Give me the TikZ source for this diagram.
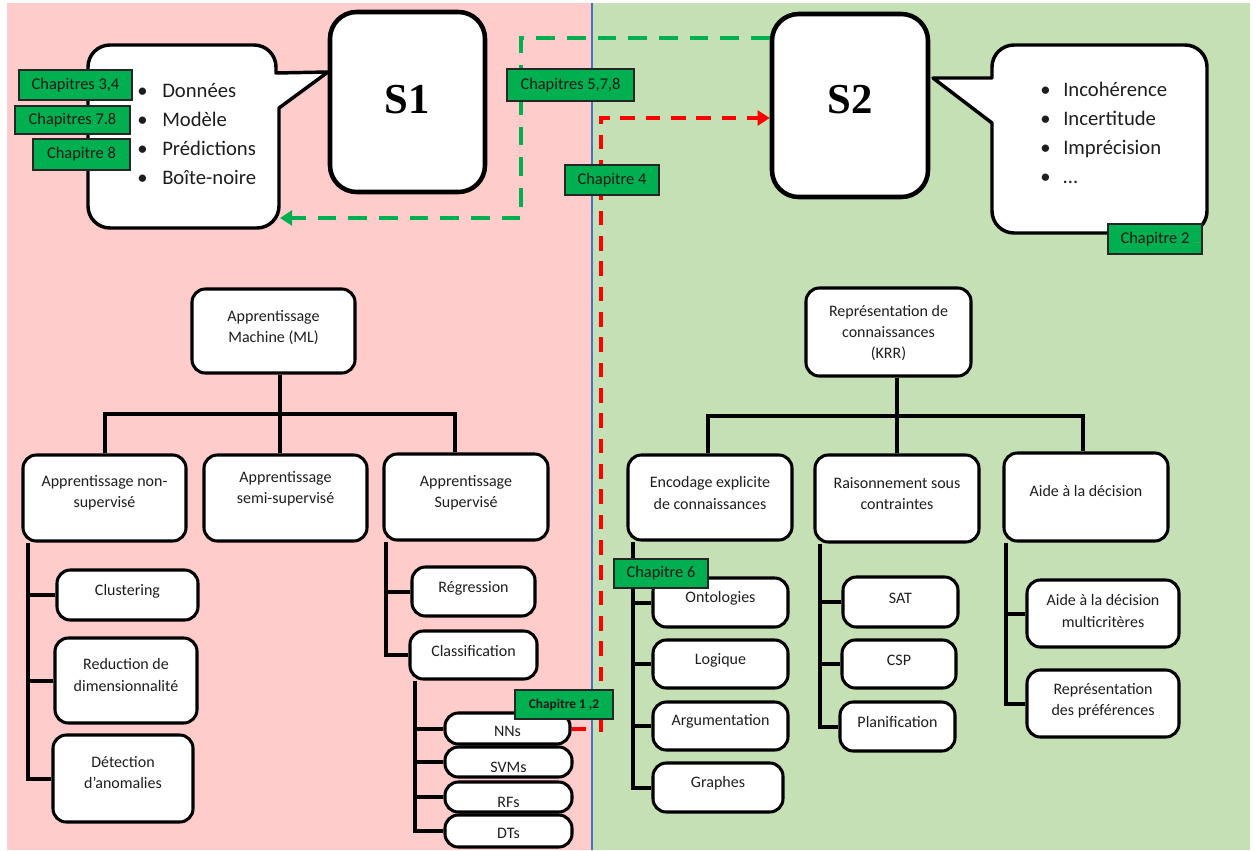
\documentclass[tikz,border=0pt]{standalone}
\usepackage{fontspec}
\setmainfont{Carlito}
\newfontfamily\serifb{Liberation Serif}
\usetikzlibrary{arrows.meta,fit}
\definecolor{pinkbg}{RGB}{255,204,204}
\definecolor{greenbg}{RGB}{197,224,180}
\definecolor{chapg}{RGB}{0,176,80}
\definecolor{divblue}{RGB}{68,114,196}
\definecolor{txtc}{RGB}{30,30,30}
\tikzset{
  box/.style={draw=black, fill=white, line width=2.3pt, rounded corners=10pt, inner sep=0pt},
  txt/.style={align=center, inner sep=0pt, text=txtc, font=\fontsize{12}{15.8}\selectfont},
  conn/.style={line width=3pt},
  chap/.style={draw=black!85, fill=chapg, line width=0.9pt, inner sep=0pt, text=black!90, font=\fontsize{12.3}{14}\selectfont},
  gdash/.style={draw=chapg, line width=3pt, dash pattern=on 14pt off 9pt},
  rdash/.style={draw=red, line width=3pt, dash pattern=on 11pt off 8pt},
  bigbox/.style={draw=black, fill=white, line width=3.4pt, rounded corners=20pt, inner sep=0pt},
  bubble/.style={draw=black, fill=white, line width=2.6pt, line join=round},
  bul/.style={align=left, inner sep=0pt, text=txtc, font=\fontsize{15.5}{21.75}\selectfont},
  stxt/.style={inner sep=0pt, font=\serifb\bfseries\fontsize{32}{36}\selectfont},
}
\newcommand\bx[7]{\node[box, fit={(#2,#3)(#4,#5)}] (#1) {};
  \node[txt] (#1-t) at ({(#2+#4)/2},#6) {#7};}
\begin{document}
\begin{tikzpicture}[x=0.75pt,y=-0.75pt]
\useasboundingbox (0,0) rectangle (1256,850);
% backgrounds
\fill[pinkbg] (7,3) rectangle (592,850);
\fill[greenbg] (592,3) rectangle (1250,850);
\draw[divblue, line width=0.8pt] (592,3) -- (592,850);

% bubbles
\draw[bubble] (110,45) -- (254,45) to[out=0,in=90] (276,67) -- (276,73) -- (328,72) -- (279,108)
  -- (279,206) to[out=-90,in=0] (257,228) -- (110,228) to[out=180,in=-90] (88,206)
  -- (88,67) to[out=90,in=180] (110,45) -- cycle;
\draw[bubble] (1014,45) -- (1185,45) to[out=0,in=90] (1207,67) -- (1207,211) to[out=-90,in=0] (1185,233)
  -- (1014,233) to[out=180,in=-90] (992,211) -- (992,123) -- (933,78) -- (992,78)
  -- (992,67) to[out=90,in=180] (1014,45) -- cycle;

% S boxes
\node[bigbox, fit={(330,12)(485,192)}] (s1) {};
\node[stxt] (s1-t) at (407,100) {S1};
\node[bigbox, fit={(772,14)(928,197)}] (s2) {};
\node[stxt] (s2-t) at (850,100) {S2};

% bullet lists
\node[bul, anchor=west] (l1) at (137,134.5) {\makebox[18.75pt][l]{•}Données\\\makebox[18.75pt][l]{•}Modèle\\\makebox[18.75pt][l]{•}Prédictions\\\makebox[18.75pt][l]{•}Boîte-noire};
\node[bul, anchor=west] (l2) at (1040,133) {\makebox[17.25pt][l]{•}Incohérence\\\makebox[17.25pt][l]{•}Incertitude\\\makebox[17.25pt][l]{•}Imprécision\\\makebox[17.25pt][l]{•}…};

% left tree
\bx{ml}{192}{289}{355}{373}{327.5}{Apprentissage\\Machine (ML)}
\bx{ns}{23}{455}{186}{541}{492.5}{Apprentissage non-\\supervisé}
\bx{ss}{204}{455}{367}{541}{488.5}{Apprentissage\\semi-supervisé}
\bx{sup}{384}{454}{548}{540}{492.5}{Apprentissage\\Supervisé}
\bx{clu}{57}{570}{198}{620}{591}{Clustering}
\bx{red}{55}{638}{197}{723}{675}{Reduction de\\dimensionnalité}
\bx{det}{53}{735}{193}{822}{772.5}{Détection\\d’anomalies}
\bx{reg}{412}{567}{535}{616}{588}{Régression}
\bx{cla}{410}{631}{537}{679}{651}{Classification}
\bx{nn}{445}{713}{570}{744}{731}{NNs}
\node[box, fit={(445,747)(572,777)}] (svm) {};
\begin{scope}
\clip (svm.north west) rectangle ([yshift=4.5pt]svm.south east);
\node[txt] (svm-t) at (508.5,767) {SVMs};
\end{scope}
\node[box, fit={(445,782)(572,812)}] (rf) {};
\begin{scope}
\clip (rf.north west) rectangle ([yshift=4.5pt]rf.south east);
\node[txt] (rf-t) at (508.5,802) {RFs};
\end{scope}
\bx{dt}{445}{815}{572}{847}{833}{DTs}

% right tree
\bx{krr}{806}{288}{971}{376}{333}{Représentation de\\connaissances\\(KRR)}
\bx{enc}{628}{455}{792}{540}{493}{Encodage explicite\\de connaissances}
\bx{rai}{815}{455}{979}{542}{493.5}{Raisonnement sous\\contraintes}
\bx{aid}{1004}{453}{1168}{541}{491}{Aide à la décision}
\bx{ont}{653}{578}{788}{627}{598}{Ontologies}
\bx{log}{653}{640}{788}{688}{660}{Logique}
\bx{arg}{653}{702}{788}{750}{721}{Argumentation}
\bx{gra}{653}{763}{783}{812}{783}{Graphes}
\bx{sat}{843}{577}{958}{627}{598}{SAT}
\bx{csp}{842}{640}{956}{688}{660}{CSP}
\bx{pla}{840}{702}{955}{751}{722}{Planification}
\bx{mcd}{1027}{580}{1179}{647}{611}{Aide à la décision\\multicritères}
\bx{pref}{1027}{670}{1179}{737}{701}{Représentation\\des préférences}

% left tree connectors
\coordinate (mlJ) at (280,414);
\coordinate (mlL) at (105,414);
\coordinate (mlR) at (455,414);
\draw[conn] (mlJ |- ml.south) -- (mlJ |- ss.north);
\draw[conn] (mlL |- ns.north) -- (mlL) -- (mlR) -- (mlR |- sup.north);
\coordinate (nsx) at ([xshift=5.25pt]ns.south west);
\draw[conn] (nsx) |- (det.west);
\draw[conn] (nsx |- clu.west) -- (clu.west);
\draw[conn] (nsx |- red.west) -- (red.west);
\coordinate (supx) at ([xshift=3pt]sup.south west);
\draw[conn] (supx) |- (cla.west);
\draw[conn] (supx |- reg.west) -- (reg.west);
\coordinate (clax) at ([xshift=5.25pt]cla.south west);
\draw[conn] (clax) |- (dt.west);
\draw[conn] (clax |- nn.west) -- (nn.west);
\draw[conn] (clax |- svm.west) -- (svm.west);
\draw[conn] (clax |- rf.west) -- (rf.west);

% right tree connectors
\coordinate (kJ) at (897,416);
\coordinate (kL) at (708,416);
\coordinate (kR) at (1083,416);
\draw[conn] (kJ |- krr.south) -- (kJ |- rai.north);
\draw[conn] (kL |- enc.north) -- (kL) -- (kR) -- (kR |- aid.north);
\coordinate (encx) at ([xshift=5.25pt]enc.south west);
\draw[conn] (encx) |- (gra.west);
\draw[conn] (encx |- ont.west) -- (ont.west);
\draw[conn] (encx |- log.west) -- (log.west);
\draw[conn] (encx |- arg.west) -- (arg.west);
\coordinate (raix) at ([xshift=5.25pt]rai.south west);
\draw[conn] (raix) |- (pla.west);
\draw[conn] (raix |- sat.west) -- (sat.west);
\draw[conn] (raix |- csp.west) -- (csp.west);
\coordinate (aidx) at ([xshift=2.5pt]aid.south west);
\draw[conn] (aidx) |- (pref.west);
\draw[conn] (aidx |- mcd.west) -- (mcd.west);

% dashed arrows
\coordinate (g1) at (521,38);
\coordinate (g2) at (521,218);
\coordinate (lbe) at (280,218);
\draw[gdash, -{Triangle[length=9pt,width=11pt]}] (g1 -| s2.west) -- (g1) -- (g2) -- (lbe);
\coordinate (r0) at (601,732);
\coordinate (r1) at (601,118);
\draw[rdash, -{Triangle[length=9pt,width=11pt]}] (r0) -- (r1) -- (r1 -| s2.west);
\draw[rdash] (nn.east) -- ++(12.75pt,0);

% chapter labels
\node[chap, minimum width=84.75pt, minimum height=22.5pt] (c34) at (75.5,85) {Chapitres 3,4};
\node[chap, minimum width=86.25pt, minimum height=21pt] (c78) at (72.5,120) {Chapitres 7.8};
\node[chap, minimum width=72.75pt, minimum height=23.25pt] (c8) at (81.5,154.5) {Chapitre 8};
\node[chap, minimum width=95.25pt, minimum height=24pt] (c578) at (570.5,85) {Chapitres 5,7,8};
\node[chap, minimum width=70.5pt, minimum height=22.5pt] (c4) at (612,180) {Chapitre 4};
\node[chap, minimum width=70.5pt, minimum height=22.5pt] (c2) at (1155,239) {Chapitre 2};
\node[chap, minimum width=70.5pt, minimum height=21.75pt] (c6) at (661,573.5) {Chapitre 6};
\node[chap, minimum width=73.5pt, minimum height=21.75pt, font=\bfseries\fontsize{10}{12}\selectfont] (c12) at (564,704.5) {Chapitre 1 ,2};
\end{tikzpicture}
\end{document}
